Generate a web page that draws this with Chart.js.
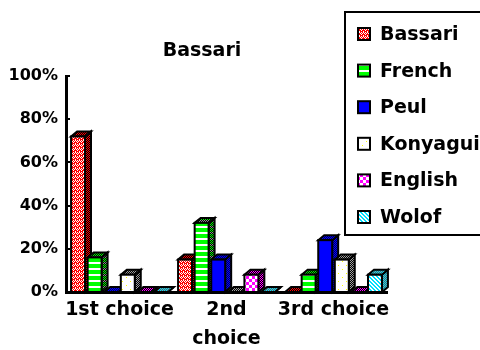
<!DOCTYPE html>
<html>
<head>
<meta charset="utf-8">
<script src="https://cdn.jsdelivr.net/npm/chart.js@4/dist/chart.umd.min.js"></script>
<style>
  html, body { margin: 0; padding: 0; background: #fff; }
  #wrap { width: 480px; height: 350px; }
</style>
</head>
<body>
<div id="wrap"><canvas id="chart" width="480" height="350"></canvas></div>
<script>
// Share of respondents naming each language as 1st / 2nd / 3rd choice
const choiceLabels = ['1st choice', ['2nd', 'choice'], '3rd choice'];
const languageNames = ['Bassari', 'French', 'Peul', 'Konyagui', 'English', 'Wolof'];
const bassari  = [72, 15, 0];
const french   = [16, 32, 8];
const peul     = [0, 15, 24];
const konyagui = [8, 0, 15];
const english  = [0, 8, 0];
const wolof    = [0, 0, 8];
const yTickValues = [0, 20, 40, 60, 80, 100];

const FONT = '"DejaVu Sans", sans-serif';

// ---- bitmap-style fill patterns -------------------------------------------
function makePattern(w, h, paint) {
  const c = document.createElement('canvas');
  c.width = w; c.height = h;
  const g = c.getContext('2d');
  paint(g);
  return document.createElement('canvas').getContext('2d').createPattern(c, 'repeat');
}
function px(g, x, y, col) { g.fillStyle = col; g.fillRect(x, y, 1, 1); }
function checker(a, b) {
  return makePattern(2, 2, g => { px(g,0,0,a); px(g,1,1,a); px(g,1,0,b); px(g,0,1,b); });
}

const fills = {
  Bassari: makePattern(4, 4, g => {
    g.fillStyle = '#ff0000'; g.fillRect(0, 0, 4, 4);
    px(g, 1, 0, '#ffffff'); px(g, 3, 0, '#ffffff');
    px(g, 0, 1, '#ffffff'); px(g, 2, 1, '#ffffff');
    px(g, 1, 2, '#ffffff'); px(g, 3, 3, '#ffffff');
  }),
  French: makePattern(1, 6, g => {
    g.fillStyle = '#00ff00'; g.fillRect(0, 0, 1, 4);
    g.fillStyle = '#ffffff'; g.fillRect(0, 4, 1, 2);
  }),
  Peul: '#0000ff',
  Konyagui: makePattern(8, 8, g => {
    g.fillStyle = '#ffffff'; g.fillRect(0, 0, 8, 8);
    px(g, 2, 1, '#ffff00'); px(g, 6, 5, '#ffff00');
  }),
  English: makePattern(6, 6, g => {
    g.fillStyle = '#ffffff'; g.fillRect(0, 0, 6, 6);
    g.fillStyle = '#ff00ff'; g.fillRect(0, 0, 3, 3); g.fillRect(3, 3, 3, 3);
  }),
  Wolof: makePattern(4, 4, g => {
    for (let y = 0; y < 4; y++) for (let x = 0; x < 4; x++)
      px(g, x, y, ((x - y + 8) % 4) < 2 ? '#00e0ff' : '#ffffff');
  })
};

const shades = {
  Bassari: checker('#ff0000', '#000000'),
  French: makePattern(2, 6, g => {
    g.fillStyle = '#000000'; g.fillRect(0, 0, 2, 6);
    px(g, 0, 0, '#00ff00'); px(g, 1, 1, '#00ff00'); px(g, 0, 2, '#00ff00'); px(g, 1, 3, '#00ff00');
    px(g, 0, 4, '#909090'); px(g, 1, 5, '#909090');
  }),
  Peul: checker('#0000ff', '#000060'),
  Konyagui: checker('#a0a0a0', '#000000'),
  English: checker('#ff00ff', '#000000'),
  Wolof: checker('#00e0ff', '#606060')
};

const seriesValues = [bassari, french, peul, konyagui, english, wolof];

// ---- 3-D block bars drawn from the bar elements' own geometry --------------
const DX = 6, DY = 5;
const blockBars = {
  id: 'blockBars',
  beforeDatasetsDraw(chart) {
    const ctx = chart.ctx;
    chart.data.datasets.forEach((ds, i) => {
      chart.getDatasetMeta(i).data.forEach(bar => {
        const { x, y, base, width } = bar.getProps(['x', 'y', 'base', 'width'], true);
        const l = x - width / 2, r = x + width / 2;
        ctx.save();
        ctx.lineWidth = 2;
        ctx.strokeStyle = '#000';
        ctx.lineJoin = 'miter';
        // right side
        ctx.beginPath();
        ctx.moveTo(r, y); ctx.lineTo(r + DX, y - DY);
        ctx.lineTo(r + DX, base - DY); ctx.lineTo(r, base);
        ctx.closePath();
        ctx.fillStyle = ds.shadeFill; ctx.fill(); ctx.stroke();
        // top
        ctx.beginPath();
        ctx.moveTo(l, y); ctx.lineTo(l + DX, y - DY);
        ctx.lineTo(r + DX, y - DY); ctx.lineTo(r, y);
        ctx.closePath();
        ctx.fillStyle = ds.shadeFill; ctx.fill(); ctx.stroke();
        // front
        ctx.fillStyle = ds.backgroundColor;
        ctx.fillRect(l, y, width, base - y);
        ctx.strokeRect(l, y, width, base - y);
        ctx.restore();
      });
    });
    return false;
  }
};

// ---- title, legend box and inner tick marks --------------------------------
const decorations = {
  id: 'decorations',
  afterDraw(chart) {
    const ctx = chart.ctx;
    ctx.save();
    ctx.fillStyle = '#000';
    ctx.font = 'bold 19px ' + FONT;
    ctx.textAlign = 'center';
    ctx.textBaseline = 'middle';
    ctx.fillText('Bassari', 202, 51);

    // y-axis tick marks
    const ys = chart.scales.y;
    ctx.strokeStyle = '#000';
    ctx.lineWidth = 2;
    yTickValues.forEach(v => {
      const py = Math.round(ys.getPixelForValue(v));
      ctx.beginPath();
      ctx.moveTo(ys.right, py); ctx.lineTo(ys.right + 4, py);
      ctx.stroke();
    });

    // legend
    ctx.lineWidth = 2;
    ctx.strokeRect(345, 12, 150, 223);
    ctx.font = 'bold 19px ' + FONT;
    ctx.textAlign = 'left';
    chart.data.datasets.forEach((ds, i) => {
      const cy = 34 + i * 36.6;
      ctx.fillStyle = ds.backgroundColor;
      ctx.fillRect(358, cy - 6, 12, 12);
      ctx.strokeRect(358, cy - 6, 12, 12);
      ctx.fillStyle = '#000';
      ctx.fillText(ds.label, 380, cy + 1);
    });
    ctx.restore();
  }
};

new Chart(document.getElementById('chart'), {
  type: 'bar',
  data: {
    labels: choiceLabels,
    datasets: languageNames.map((name, i) => ({
      label: name,
      data: seriesValues[i],
      backgroundColor: fills[name],
      shadeFill: shades[name],
      borderWidth: 0,
      categoryPercentage: 0.93,
      barPercentage: 0.84
    }))
  },
  options: {
    responsive: false,
    animation: false,
    devicePixelRatio: 1,
    layout: { padding: { left: 0, top: 76, right: 93, bottom: 0 } },
    plugins: { legend: { display: false }, title: { display: false }, tooltip: { enabled: false } },
    scales: {
      x: {
        grid: { display: false, drawTicks: false },
        border: { display: true, color: '#000', width: 3 },
        ticks: {
          color: '#000',
          padding: 3,
          maxRotation: 0,
          autoSkip: false,
          font: { family: FONT, size: 19, weight: 'bold', lineHeight: 1.55 }
        },
        afterFit(scale) { scale.height = 58; }
      },
      y: {
        min: 0,
        max: 100,
        afterBuildTicks(scale) { scale.ticks = yTickValues.map(v => ({ value: v })); },
        grid: { display: false, drawTicks: false },
        border: { display: true, color: '#000', width: 3 },
        ticks: {
          color: '#000',
          padding: 8,
          callback: v => v + '%',
          font: { family: FONT, size: 16, weight: 'bold' }
        },
        afterFit(scale) { scale.width = 66; }
      }
    }
  },
  plugins: [blockBars, decorations]
});
</script>
</body>
</html>
